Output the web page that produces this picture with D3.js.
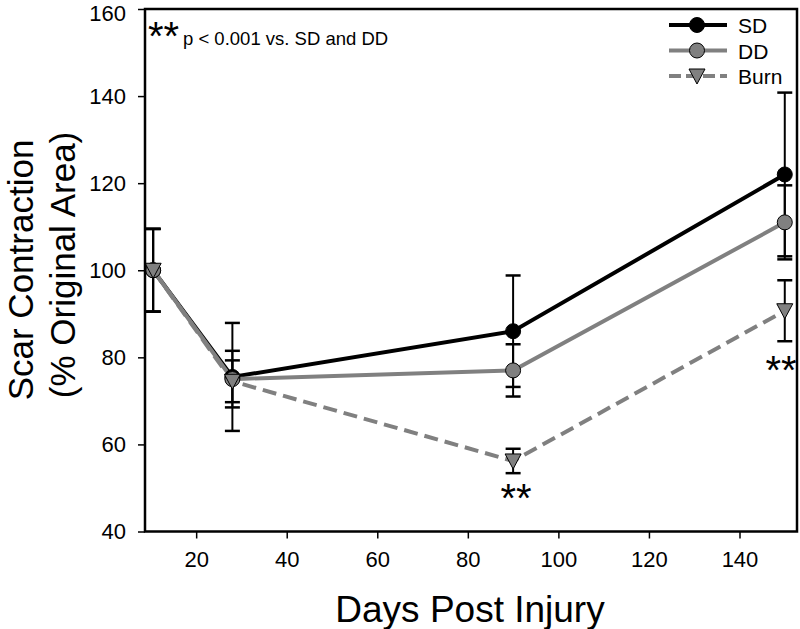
<!DOCTYPE html>
<html><head><meta charset="utf-8">
<script src="https://cdn.jsdelivr.net/npm/d3@7"></script>
<style>body{margin:0;background:#fff}svg{display:block}text{font-family:"Liberation Sans",Arial,sans-serif}</style>
</head><body><svg id="c" width="800" height="629"></svg>
<script>
const days = [10.5, 28, 90, 150];
const sdMean = [100, 75.5, 86, 122];
const sdErr = [9.5, 12.4, 12.8, 18.8];
const ddMean = [100, 75, 77, 111];
const ddErr = [9.5, 6.5, 6.0, 8.5];
const burnMean = [100, 74.5, 56.2, 90.7];
const burnErr = [9.5, 4.8, 2.8, 7.0];
const xTicks = [20, 40, 60, 80, 100, 120, 140];
const yTicks = [40, 60, 80, 100, 120, 140, 160];
const seriesNames = ["SD", "DD", "Burn"];

const svg = d3.select("#c");
const x = d3.scaleLinear().domain([8.7, 152.7]).range([145, 797]);
const y = d3.scaleLinear().domain([40, 160]).range([531.5, 9]);
const gray = "#808080";

const series = [
  {name: seriesNames[0], mean: sdMean, err: sdErr, color: "#000", fill: "#000", dash: null, shape: "circle"},
  {name: seriesNames[1], mean: ddMean, err: ddErr, color: gray, fill: gray, dash: null, shape: "circle"},
  {name: seriesNames[2], mean: burnMean, err: burnErr, color: gray, fill: gray, dash: "14,7", shape: "tri"}
];

// axes
const xAxis = d3.axisBottom(x).tickValues(xTicks).tickSize(7).tickPadding(13).tickFormat(d3.format("d"));
const yAxis = d3.axisLeft(y).tickValues(yTicks).tickSize(7).tickPadding(12).tickFormat(d3.format("d"));
const gx = svg.append("g").attr("transform", `translate(0,${y(40)})`).call(xAxis);
const gy = svg.append("g").attr("transform", `translate(${x(8.7)},0)`).call(yAxis);
[gx, gy].forEach(g => {
  g.select(".domain").remove();
  g.selectAll(".tick line").attr("stroke", "#000").attr("stroke-width", 1.5);
  g.selectAll(".tick text").attr("fill", "#000").style("font-size", "22px");
});
gy.selectAll(".tick text").filter(d => d === 160).attr("dy", "0.5em");

// lines
const line = d3.line().x((d, i) => x(days[i])).y(d => y(d));
series.forEach(s => {
  svg.append("path").datum(s.mean).attr("d", line)
    .attr("fill", "none").attr("stroke", s.color).attr("stroke-width", 4)
    .attr("stroke-dasharray", s.dash);
});

// error bars
series.forEach(s => {
  const g = svg.append("g").attr("stroke", "#000").attr("stroke-width", 2);
  s.mean.forEach((m, i) => {
    const cx = x(days[i]);
    g.append("line").attr("x1", cx).attr("x2", cx).attr("y1", y(m - s.err[i])).attr("y2", y(m + s.err[i]));
    [m - s.err[i], m + s.err[i]].forEach(v => {
      g.append("line").attr("x1", cx - 7.5).attr("x2", cx + 7.5).attr("y1", y(v)).attr("y2", y(v)).attr("stroke-width", 2.5);
    });
  });
});

function marker(g, s, cx, cy) {
  if (s.shape === "circle") {
    g.append("circle").attr("cx", cx).attr("cy", cy).attr("r", 7.5)
      .attr("fill", s.fill).attr("stroke", "#000").attr("stroke-width", 1);
  } else {
    g.append("path").attr("d", `M${cx - 8},${cy - 7} L${cx + 8},${cy - 7} L${cx},${cy + 8} Z`)
      .attr("fill", s.fill).attr("stroke", "#000").attr("stroke-width", 1);
  }
}
// markers
series.forEach(s => {
  const g = svg.append("g");
  s.mean.forEach((m, i) => marker(g, s, x(days[i]), y(m)));
});

// frame
svg.append("rect").attr("x", x(8.7)).attr("y", y(160)).attr("width", x(152.7) - x(8.7)).attr("height", y(40) - y(160))
  .attr("fill", "none").attr("stroke", "#000").attr("stroke-width", 2.5);

// legend
const lg = svg.append("g");
series.forEach((s, i) => {
  const ly = 25 + i * 25.5;
  lg.append("line").attr("x1", 669).attr("x2", 727).attr("y1", ly).attr("y2", ly)
    .attr("stroke", s.color).attr("stroke-width", 4).attr("stroke-dasharray", s.dash ? "12,5" : null);
  marker(lg, s, 697, ly);
  lg.append("text").attr("x", 738).attr("y", ly + 8).style("font-size", "21px").text(s.name);
});

// annotations
svg.append("text").attr("x", 148).attr("y", 50).style("font-size", "40px").text("**");
svg.append("text").attr("x", 183).attr("y", 45).style("font-size", "18.5px").text("p < 0.001 vs. SD and DD");
svg.append("text").attr("x", x(90) + 3).attr("y", 512).attr("text-anchor", "middle").style("font-size", "40px").text("**");
svg.append("text").attr("x", 781).attr("y", 384).attr("text-anchor", "middle").style("font-size", "40px").text("**");

// axis titles
svg.append("text").attr("x", 470).attr("y", 622).attr("text-anchor", "middle").style("font-size", "37px").text("Days Post Injury");
svg.append("text").attr("transform", "translate(33,270) rotate(-90)").attr("text-anchor", "middle").style("font-size", "35px").text("Scar Contraction");
svg.append("text").attr("transform", "translate(75,265) rotate(-90)").attr("text-anchor", "middle").style("font-size", "35px").text("(% Original Area)");
</script></body></html>
